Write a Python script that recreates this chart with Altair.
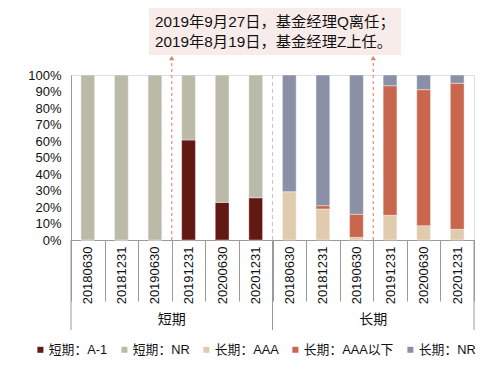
import altair as alt
import pandas as pd

dates = ["20180630", "20181231", "20190630", "20191231", "20200630", "20201231"]
groups = ["短期", "长期"]
series = ["短期：A-1", "短期：NR", "长期：AAA", "长期：AAA以下", "长期：NR"]
colors = ["#621813", "#bbbaa8", "#e1cbae", "#c8674d", "#8a90a6"]

short_a1 = [0, 0, 0, 60.6, 22.8, 25.6]
short_nr = [100, 100, 100, 39.4, 77.2, 74.4]
long_aaa = [29.3, 18.8, 1.6, 15.0, 8.7, 6.5]
long_below = [0, 2.0, 14.0, 78.5, 82.4, 88.5]
long_nr = [70.7, 79.2, 84.4, 6.5, 8.9, 5.0]

note_lines = ["2019年9月27日，基金经理Q离任；", "2019年8月19日，基金经理Z上任。"]

keys = [f"{g}|{d}" for g in groups for d in dates]

rows = []
for i, d in enumerate(dates):
    for s, vals, o in [(series[0], short_a1, 0), (series[1], short_nr, 1)]:
        rows.append({"key": f"短期|{d}", "series": s, "value": vals[i], "ord": o})
    for s, vals, o in [(series[2], long_aaa, 0), (series[3], long_below, 1), (series[4], long_nr, 2)]:
        rows.append({"key": f"长期|{d}", "series": s, "value": vals[i], "ord": o})
df = pd.DataFrame(rows)

FONT = "Liberation Sans, Noto Sans CJK SC"

xscale = alt.Scale(domain=keys, paddingInner=0, paddingOuter=0)
xaxis = alt.Axis(labelAngle=270, labelExpr="split(datum.value, '|')[1]",
                 tickBand="extent", tickSize=61, tickColor="#9a9a9a",
                 domainColor="#9a9a9a", labelFontSize=13, labelFont=FONT,
                 labelColor="#111", labelPadding=-55, labelAlign="right",
                 labelBaseline="middle", labelOverlap=False, labelBound=False,
                 title=None)

def xenc(bp=0.5):
    return alt.X("key:N", bandPosition=bp, scale=xscale, sort=keys, axis=xaxis, title=None)

bars = alt.Chart(df).mark_bar(width=alt.RelativeBandSize(0.41), stroke="white", strokeWidth=0.4).encode(
    x=alt.X("key:N", scale=xscale, sort=keys, title=None, axis=xaxis),
    y=alt.Y("value:Q", stack="zero", scale=alt.Scale(domain=[0, 100], nice=False),
            title=None,
            axis=alt.Axis(values=list(range(0, 101, 10)), labelExpr="datum.value + '%'",
                          ticks=False, grid=False, domainColor="#9a9a9a",
                          labelFontSize=13, labelFont=FONT, labelColor="#111",
                          labelPadding=10)),
    color=alt.Color("series:N", scale=alt.Scale(domain=series, range=colors), title=None,
                    legend=alt.Legend(orient="none", legendX=-37, legendY=268,
                                      direction="horizontal", columns=5,
                                      symbolType="square", symbolSize=36,
                                      symbolStrokeWidth=0,
                                      labelFontSize=12.8, labelFont=FONT, labelColor="#111",
                                      columnPadding=10, labelOffset=2)),
    order=alt.Order("ord:Q"),
)

# group boundary lines
bounds_left = alt.Chart(pd.DataFrame({"key": ["短期|20180630", "长期|20180630"]})).mark_rule(color="#9a9a9a").encode(
    x=xenc(0), y=alt.value(165), y2=alt.value(255))
bounds_right = alt.Chart(pd.DataFrame({"key": ["长期|20201231"]})).mark_rule(color="#9a9a9a").encode(
    x=xenc(1), y=alt.value(165), y2=alt.value(255))

# gray dashed separator
sep = alt.Chart(pd.DataFrame({"key": ["长期|20180630"]})).mark_rule(
    color="#c8c8c8", strokeDash=[4, 3], strokeWidth=1.2).encode(
    x=xenc(0), y=alt.value(0), y2=alt.value(165))

# event arrows
arrow_df = pd.DataFrame({"key": ["短期|20191231", "长期|20191231"]})
arrows = alt.Chart(arrow_df).mark_rule(color="#e0856c", strokeDash=[3, 3], strokeWidth=1.1).encode(
    x=xenc(0), y=alt.value(165), y2=alt.value(-16))
heads = alt.Chart(arrow_df).mark_point(shape="triangle-up", filled=True, size=28,
                                       color="#e0856c", opacity=1).encode(
    x=xenc(0), y=alt.value(-17))

# group labels
glabels = alt.Chart(pd.DataFrame({"key": ["短期|20191231", "长期|20191231"],
                                  "label": groups})).mark_text(
    fontSize=14, font=FONT, color="#111", baseline="middle").encode(
    x=xenc(0), y=alt.value(245), text="label:N")

# annotation box
box = alt.Chart(pd.DataFrame({"a": [0]})).mark_rect(fill="#f8ecea").encode(
    x=alt.value(78), x2=alt.value(330), y=alt.value(-70), y2=alt.value(-20))
note1 = alt.Chart(pd.DataFrame({"t": [note_lines[0]]})).mark_text(
    fontSize=15.3, font=FONT, color="#111", align="left", baseline="middle").encode(
    x=alt.value(84), y=alt.value(-53), text="t:N")
note2 = alt.Chart(pd.DataFrame({"t": [note_lines[1]]})).mark_text(
    fontSize=15.3, font=FONT, color="#111", align="left", baseline="middle").encode(
    x=alt.value(84), y=alt.value(-33.5), text="t:N")

chart = alt.layer(box, note1, note2, sep, arrows, heads, bars, bounds_left, bounds_right, glabels).properties(
    width=403, height=165,
    autosize=alt.AutoSizeParams(type="none"),
    padding={"left": 63, "top": 67, "right": 10, "bottom": 120},
).configure_view(stroke=None).configure(background="white")

chart.save("out.html", embed_options={"renderer": "svg", "actions": False})
